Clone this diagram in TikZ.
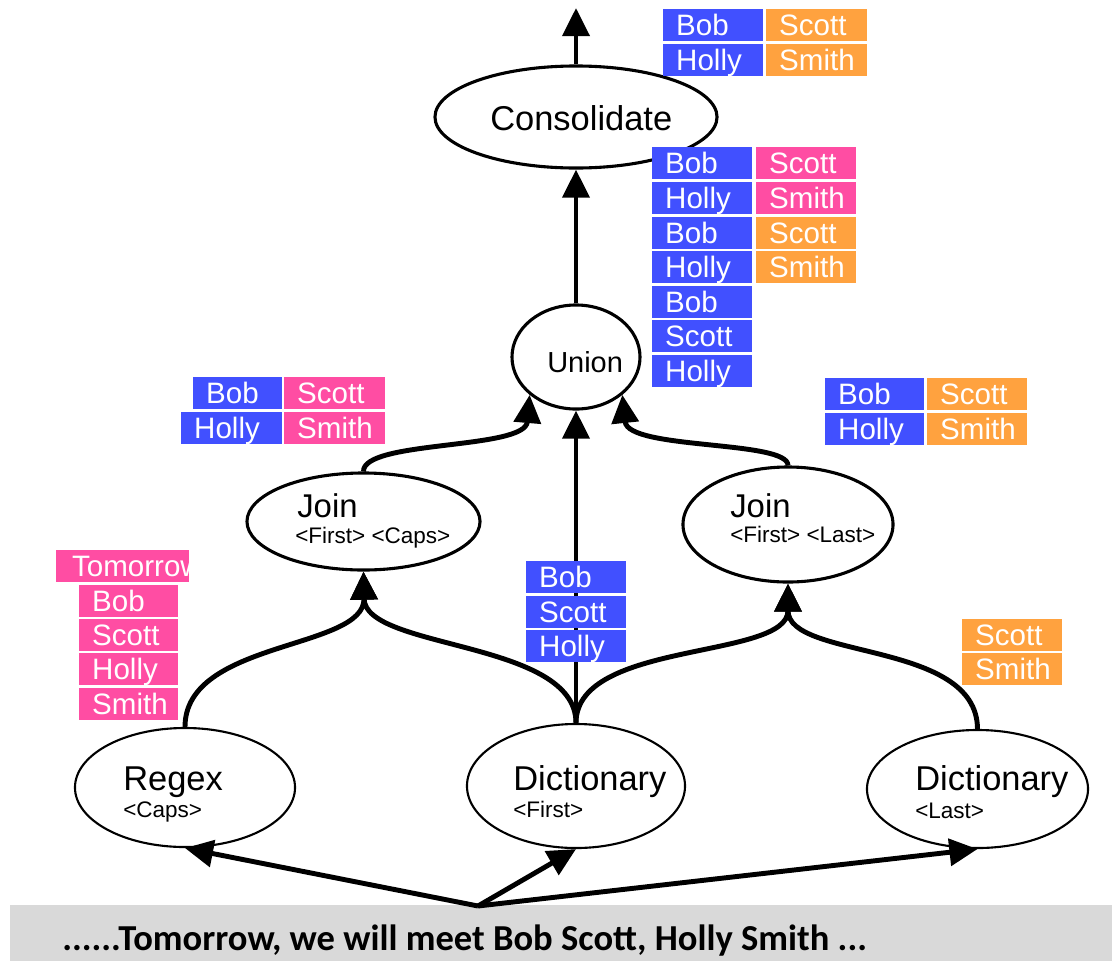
\documentclass[tikz,border=0pt]{standalone}
\usepackage{fontspec}
\setmainfont{Liberation Sans}
\newfontfamily\barfont{Carlito}
\usetikzlibrary{arrows.meta,shapes.geometric}

\definecolor{cblue}{HTML}{4150FF}
\definecolor{cpink}{HTML}{FF4DA3}
\definecolor{corange}{HTML}{FFA23F}
\definecolor{bargray}{HTML}{D9D9D9}

\begin{document}
\begin{tikzpicture}[x=0.025cm,y=-0.025cm,
  op/.style={draw, ellipse, line width=2.2pt, fill=white, inner sep=0pt},
  srcop/.style={draw, ellipse, line width=1.5pt, fill=white, inner sep=0pt},
  lbl/.style={anchor=base west, inner sep=0pt, font=\fontsize{24.5}{28}\selectfont},
  sublbl/.style={anchor=base west, inner sep=0pt, font=\fontsize{16}{19}\selectfont},
  flow/.style={line width=3.5pt, -{Triangle[length=20pt,width=19pt]}},
  cell/.style 2 args={fill=#1, text=white, anchor=north west, inner xsep=9.2pt,
    inner ysep=1pt, text height=17.4pt, text depth=3.3pt, text width=#2,
    align=left, font=\fontsize{21}{24}\selectfont},
]
\useasboundingbox (0,0) rectangle (1112,961);

% input text strip
\fill[bargray] (10,905) rectangle (1112,961);
\node[anchor=base west, inner sep=0pt, font=\barfont\bfseries\fontsize{26}{30}\selectfont]
  (sentence) at (62,950) {......Tomorrow, we will meet Bob Scott, Holly Smith ...};

% operators
\node[op, minimum width=7.05cm, minimum height=2.55cm] (cons) at (576,117) {};
\node[op, minimum width=3.2cm, minimum height=2.6cm] (union) at (576,357) {};
\node[op, minimum width=5.825cm, minimum height=2.425cm] (joinL) at (363.5,521.5) {};
\node[op, minimum width=5.25cm, minimum height=2.875cm] (joinR) at (788,524.5) {};
\node[srcop, minimum width=5.5cm, minimum height=2.975cm] (regex) at (185,787.5) {};
\node[srcop, minimum width=5.45cm, minimum height=3.1cm] (dictM) at (576,786) {};
\node[srcop, minimum width=5.525cm, minimum height=2.95cm] (dictR) at (977.5,789) {};

% data flow
\coordinate (out) at (576,8);
\coordinate (origin) at (478,906);
\draw[flow] (cons.north) -- (out);
\draw[flow] (union.north) -- (cons.south);
\draw[flow] (joinL.north) .. controls (363,440) and (525,450) .. (union.south west);
\draw[flow] (joinR.north) .. controls (788,440) and (628,450) .. (union.south east);
\draw[flow] (dictM.north) -- (union.south);
\draw[flow] (regex.north) .. controls (185,640) and (365,650) .. (joinL.south);
\draw[flow] (dictM.north) .. controls (576,640) and (365,650) .. (joinL.south);
\draw[flow] (dictM.north) .. controls (576,640) and (788,660) .. (joinR.south);
\draw[flow] (dictR.north) .. controls (977,640) and (788,660) .. (joinR.south);
\draw[flow] (origin) -- (regex.south);
\draw[flow] (origin) -- (dictM.south);
\draw[flow] (origin) -- (dictR.south);

% operator labels
\node[lbl] (consT) at (490,130) {Consolidate};
\node[lbl, font=\fontsize{20.6}{24}\selectfont] (unionT) at (547,372) {Union};
\node[lbl, font=\fontsize{23.4}{27}\selectfont] (joinLT) at (297,517) {Join};
\node[sublbl] (joinLS) at (295,543) {<First> <Caps>};
\node[lbl, font=\fontsize{23.4}{27}\selectfont] (joinRT) at (730,517) {Join};
\node[sublbl] (joinRS) at (730,542) {<First> <Last>};
\node[lbl] (regexT) at (123,790) {Regex};
\node[sublbl] (regexS) at (123,817) {<Caps>};
\node[lbl] (dictMT) at (513,790) {Dictionary};
\node[sublbl] (dictMS) at (513,817) {<First>};
\node[lbl] (dictRT) at (915,790) {Dictionary};
\node[sublbl] (dictRS) at (915,818) {<Last>};

% result of Consolidate
\node[cell={cblue}{52.5pt}] (t1a) at (663,9) {Bob};
\node[cell={corange}{53.2pt}] (t1b) at (766,9) {Scott};
\node[cell={cblue}{52.5pt}] (t1c) at (663,44) {Holly};
\node[cell={corange}{53.2pt}] (t1d) at (766,44) {Smith};

% result of Union
\node[cell={cblue}{52.5pt}] (t2a) at (652,147) {Bob};
\node[cell={cpink}{52.5pt}] (t2b) at (756,147) {Scott};
\node[cell={cblue}{52.5pt}] (t2c) at (652,182) {Holly};
\node[cell={cpink}{52.5pt}] (t2d) at (756,182) {Smith};
\node[cell={cblue}{52.5pt}] (t2e) at (652,217) {Bob};
\node[cell={corange}{52.5pt}] (t2f) at (756,217) {Scott};
\node[cell={cblue}{52.5pt}] (t2g) at (652,251) {Holly};
\node[cell={corange}{52.5pt}] (t2h) at (756,251) {Smith};
\node[cell={cblue}{52.5pt}] (t2i) at (652,286) {Bob};
\node[cell={cblue}{52.5pt}] (t2j) at (652,320) {Scott};
\node[cell={cblue}{52.5pt}] (t2k) at (652,355) {Holly};

% result of Join <First> <Caps>
\node[cell={cblue}{44.7pt}] (t3a) at (193,377) {Bob};
\node[cell={cpink}{53.2pt}] (t3b) at (284,377) {Scott};
\node[cell={cblue}{53.2pt}] (t3c) at (181,412) {Holly};
\node[cell={cpink}{53.2pt}] (t3d) at (284,412) {Smith};

% result of Join <First> <Last>
\node[cell={cblue}{51.8pt}] (t4a) at (825,378) {Bob};
\node[cell={corange}{52.5pt}] (t4b) at (927,378) {Scott};
\node[cell={cblue}{51.8pt}] (t4c) at (825,413) {Holly};
\node[cell={corange}{52.5pt}] (t4d) at (927,413) {Smith};

% result of Regex <Caps>
\begin{scope}
  \clip (56,550) rectangle (189,583);
  \node[cell={cpink}{71.6pt}, inner xsep=11.3pt] (l0) at (56,550) {\mbox{Tomorrow}};
\end{scope}
\node[cell={cpink}{51.8pt}] (l1) at (79,585) {Bob};
\node[cell={cpink}{51.8pt}] (l2) at (79,619) {Scott};
\node[cell={cpink}{51.8pt}] (l3) at (79,653) {Holly};
\node[cell={cpink}{51.8pt}] (l4) at (79,688) {Smith};

% result of Dictionary <First>
\node[cell={cblue}{52.5pt}] (m1) at (526,561) {Bob};
\node[cell={cblue}{52.5pt}] (m2) at (526,596) {Scott};
\node[cell={cblue}{52.5pt}] (m3) at (526,630) {Holly};

% result of Dictionary <Last>
\node[cell={corange}{52.5pt}] (r1) at (962,619) {Scott};
\node[cell={corange}{52.5pt}] (r2) at (962,653) {Smith};
\end{tikzpicture}
\end{document}
